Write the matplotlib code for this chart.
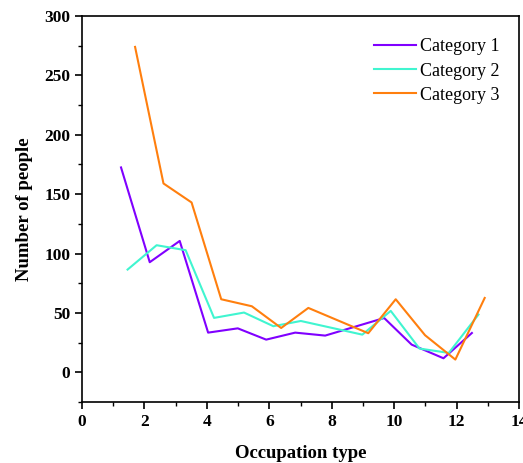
import numpy as np
import matplotlib
matplotlib.use('Agg')
import matplotlib.pyplot as plt
from matplotlib.ticker import MultipleLocator

plt.rcParams['font.family'] = ['Liberation Serif', 'DejaVu Serif']

# Данные
x1 = [1.25, 2.17, 3.13, 4.04, 4.99, 5.90, 6.83, 7.79, 9.68, 10.56, 11.58, 12.49]
y1 = [172.5, 92.7, 110.6, 33.4, 37.0, 27.5, 33.4, 30.9, 45.7, 23.3, 11.8, 33.1]

x2 = [1.46, 2.39, 3.32, 4.23, 5.19, 6.13, 7.01, 8.98, 9.89, 10.81, 11.75, 12.70]
y2 = [86.5, 107.0, 102.8, 45.8, 50.3, 38.8, 43.2, 31.7, 51.7, 20.0, 16.3, 48.6]

x3 = [1.70, 2.61, 3.51, 4.46, 5.44, 6.38, 7.25, 9.17, 10.05, 10.99, 11.96, 12.90]
y3 = [274.0, 159.0, 143.0, 61.5, 55.6, 37.3, 54.2, 32.9, 61.5, 31.2, 10.7, 62.6]

labels = ['Category 1', 'Category 2', 'Category 3']
colors = ['#8000FF', '#40F5D0', '#FF7F0E']

fig = plt.figure(figsize=(5.23, 4.63), dpi=100)
ax = fig.add_axes([0.1568, 0.1318, 0.8356, 0.8336])

for xs, ys, lab, c in zip([x1, x2, x3], [y1, y2, y3], labels, colors):
    ax.plot(xs, ys, color=c, lw=1.5, label=lab)

ax.set_xlim(0, 14)
ax.set_ylim(-25, 300)
ax.xaxis.set_major_locator(MultipleLocator(2))
ax.xaxis.set_minor_locator(MultipleLocator(1))
ax.yaxis.set_major_locator(MultipleLocator(50))
ax.yaxis.set_minor_locator(MultipleLocator(25))
ax.tick_params(which='major', direction='out', length=5, width=1.2,
               labelsize=12.5, top=False, right=False)
ax.tick_params(which='minor', direction='out', length=3, width=1.0,
               top=False, right=False)
for lbl in ax.get_xticklabels() + ax.get_yticklabels():
    lbl.set_fontweight('bold')
for s in ax.spines.values():
    s.set_linewidth(1.2)

ax.set_xlabel('Occupation type', fontsize=13.5, fontweight='bold', labelpad=11)
ax.set_ylabel('Number of people', fontsize=13.5, fontweight='bold', labelpad=8)

ax.legend(loc='upper right', bbox_to_anchor=(0.985, 0.975), frameon=False,
          fontsize=13, handlelength=2.3, handletextpad=0.25,
          labelspacing=0.4, borderaxespad=0.3)

fig.savefig('out.png', dpi=100)
